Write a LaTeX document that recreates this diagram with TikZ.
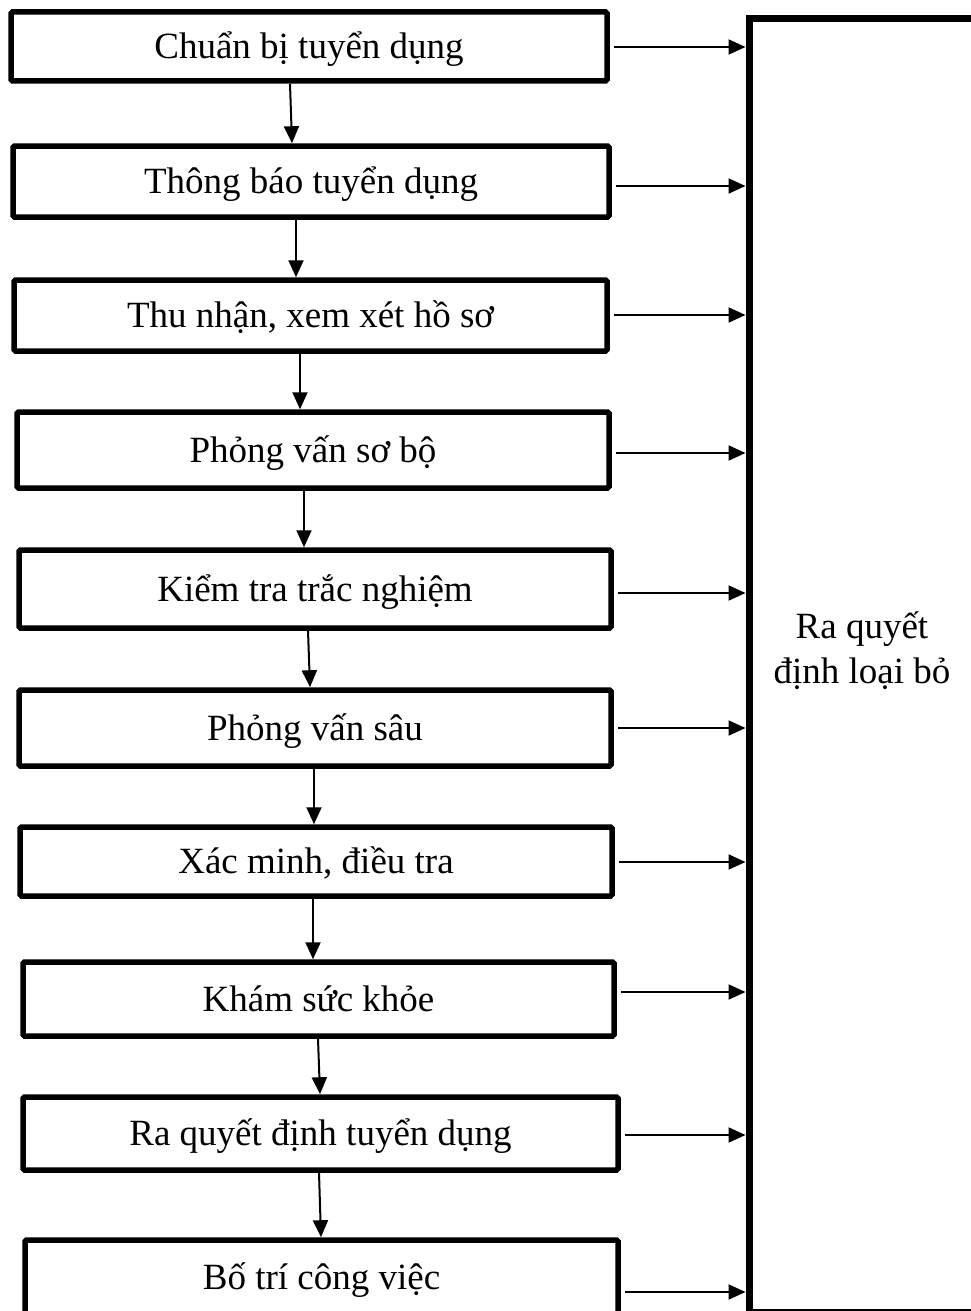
\documentclass[tikz,border=0pt]{standalone}
\usepackage{fontspec}
\setmainfont{Liberation Serif}
\usetikzlibrary{arrows.meta}
\begin{document}
\begin{tikzpicture}[x=1pt,y=-1pt,
  stepbox/.style={draw, line width=5.5pt, rounded corners=1.5pt, inner sep=0pt,
    font=\fontsize{37}{44}\selectfont, text height=24.5pt, text depth=0pt},
  bigbox/.style={draw, line width=7pt, inner sep=0pt},
  bigtext/.style={inner sep=0pt, align=center, font=\fontsize{37}{45}\selectfont,
    text height=69.5pt, text depth=33.5pt},
  arr/.style={line width=2pt, -{Triangle[length=17pt,width=15pt]}}]
\useasboundingbox (0,0) rectangle (970,1311);

% process steps
\node[stepbox, minimum width=596pt, minimum height=69pt] (b1)  at (309,46.5)   {Chuẩn bị tuyển dụng};
\node[stepbox, minimum width=596pt, minimum height=71pt] (b2)  at (311,181.5)  {Thông báo tuyển dụng};
\node[stepbox, minimum width=593pt, minimum height=71pt] (b3)  at (310.5,315.5){Thu nhận, xem xét hồ sơ};
\node[stepbox, minimum width=592pt, minimum height=76pt] (b4)  at (313,450)    {Phỏng vấn sơ bộ};
\node[stepbox, minimum width=592pt, minimum height=78pt] (b5)  at (315,589)    {Kiểm tra trắc nghiệm};
\node[stepbox, minimum width=592pt, minimum height=76pt] (b6)  at (315,728)    {Phỏng vấn sâu};
\node[stepbox, minimum width=592pt, minimum height=69pt] (b7)  at (316,861.5)  {Xác minh, điều tra};
\node[stepbox, minimum width=591pt, minimum height=74pt] (b8)  at (318.5,999)  {Khám sức khỏe};
\node[stepbox, minimum width=595pt, minimum height=73pt] (b9)  at (320.5,1133.5){Ra quyết định tuyển dụng};
\node[stepbox, minimum width=593pt, minimum height=74pt] (b10) at (321.5,1277) {Bố trí công việc};

% rejection box, running past the right edge, and its caption
\node[bigbox, minimum width=451pt, minimum height=1293pt] (rej) at (974.5,665.5) {};
\node[bigtext] (rejlabel) at (862,665) {Ra quyết\\định loại bỏ};

% flow between steps
\draw[arr] (290,0 |- b1.south) -- (292,0 |- b2.north);
\draw[arr] (296,0 |- b2.south) -- (296,0 |- b3.north);
\draw[arr] (300,0 |- b3.south) -- (300,0 |- b4.north);
\draw[arr] (304,0 |- b4.south) -- (304,0 |- b5.north);
\draw[arr] (308,0 |- b5.south) -- (310,0 |- b6.north);
\draw[arr] (314,0 |- b6.south) -- (314,0 |- b7.north);
\draw[arr] (313,0 |- b7.south) -- (313,0 |- b8.north);
\draw[arr] (318,0 |- b8.south) -- (320,0 |- b9.north);
\draw[arr] (319,0 |- b9.south) -- (321,0 |- b10.north);

% every step can lead to rejection
\foreach \b/\y in {b1/47, b2/186, b3/315, b4/453, b5/593, b6/728, b7/862, b8/992, b9/1135, b10/1292}
  \draw[arr, shorten <=4pt] (\b.east |- 0,\y) -- (rej.west |- 0,\y);
\end{tikzpicture}
\end{document}
